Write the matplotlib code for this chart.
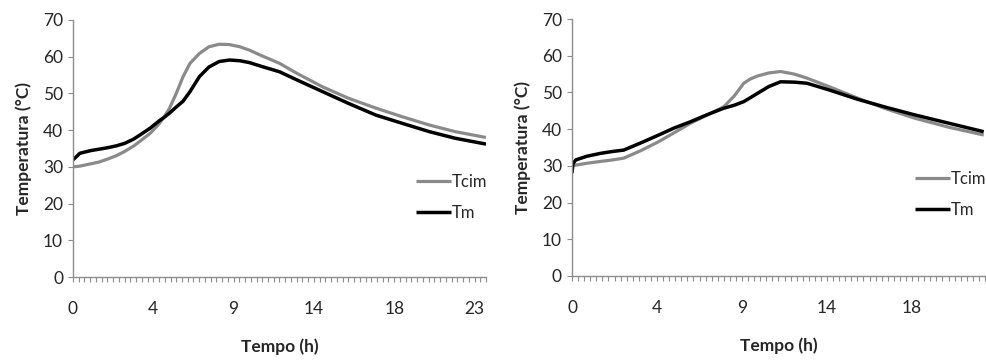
import matplotlib
matplotlib.use("Agg")
import matplotlib.pyplot as plt
import numpy as np
from matplotlib.ticker import MultipleLocator, FixedLocator, FixedFormatter

plt.rcParams['font.family'] = ['Lato', 'DejaVu Sans']

# ---------------- data ----------------
# left chart
left_t = [0, 0.4, 1, 1.5, 2, 2.5, 3, 3.5, 3.9, 4.5, 5, 5.3, 5.6, 6, 6.4, 6.8, 7.35, 7.9,
          8.5, 9.1, 9.7, 10.25, 11, 12, 13, 14.5, 16, 17.6, 19.1, 20.7, 22.2, 24]
left_tcim = [30.0, 30.2, 30.8, 31.3, 32.1, 33.0, 34.2, 35.6, 37.0, 39.2, 41.7, 43.6,
             45.9, 50.0, 54.6, 58.2, 60.9, 62.7, 63.4, 63.3, 62.7, 61.8, 60.2, 58.2,
             55.5, 51.8, 48.7, 46.0, 43.7, 41.4, 39.6, 38.0]
left_tm = [31.9, 33.7, 34.4, 34.8, 35.2, 35.7, 36.4, 37.5, 38.7, 40.6, 42.5, 43.5,
           44.6, 46.3, 47.9, 50.5, 54.6, 57.2, 58.7, 59.1, 58.9, 58.4, 57.3, 55.9,
           53.7, 50.5, 47.3, 44.1, 41.9, 39.6, 37.8, 36.2]

# right chart
right_t = [0, 0.05, 0.2, 0.8, 1.56, 2.2, 2.84, 3.8, 4.76, 5.6, 6.5, 7.4, 8.33, 8.9,
           9.43, 9.8, 10.2, 10.8, 11.45, 12.2, 12.9, 14.1, 15.7, 17.2, 18.8, 20.7, 22.6]
right_tcim = [29.8, 30.0, 30.2, 30.7, 31.2, 31.6, 32.1, 34.2, 36.6, 39.0, 41.6, 43.8,
              46.1, 49.0, 52.5, 53.7, 54.5, 55.3, 55.7, 55.0, 53.9, 51.6, 48.4, 45.6,
              43.0, 40.5, 38.4]
right_tm = [28.0, 30.5, 31.6, 32.6, 33.4, 33.9, 34.3, 36.3, 38.4, 40.3, 42.0, 43.9,
            45.7, 46.5, 47.5, 48.6, 49.8, 51.6, 52.9, 52.8, 52.5, 50.7, 48.1, 46.0,
            43.9, 41.6, 39.3]

left_labels = ["0", "4", "9", "14", "18", "23"]
right_labels = ["0", "4", "9", "14", "18"]
label_step = 14 / 3.0     # 14 category ticks of 20 min between labels
minor_step = 1 / 3.0

series_names = ["Tcim", "Tm"]
GRAY = "#8a8a8a"
AXC = "#8c8c8c"
TXT = "#262626"

W, H = 987, 360
fig = plt.figure(figsize=(W / 100, H / 100), dpi=100)

def setup(ax, t, tcim, tm, labels, xmax, leg_y):
    ax.plot(t, tcim, color=GRAY, lw=2.3, label=series_names[0],
            solid_capstyle='butt', solid_joinstyle='round')
    ax.plot(t, tm, color="black", lw=2.5, label=series_names[1],
            solid_capstyle='butt', solid_joinstyle='round')
    ax.set_xlim(0, xmax)
    ax.set_ylim(0, 70)
    ax.set_yticks(np.arange(0, 71, 10))
    for s in ["top", "right"]:
        ax.spines[s].set_visible(False)
    for s in ["left", "bottom"]:
        ax.spines[s].set_color(AXC)
        ax.spines[s].set_linewidth(1.0)
    ax.xaxis.set_major_locator(FixedLocator([k * label_step for k in range(len(labels))]))
    ax.xaxis.set_major_formatter(FixedFormatter(labels))
    ax.xaxis.set_minor_locator(MultipleLocator(minor_step))
    ax.tick_params(axis='x', which='major', length=3.6, width=0.8, color=AXC,
                   pad=13.5, labelsize=12.5, labelcolor=TXT)
    ax.tick_params(axis='x', which='minor', length=3.6, width=0.8, color=AXC)
    ax.tick_params(axis='y', which='major', length=3.6, width=0.8, color=AXC,
                   pad=3.6, labelsize=12.5, labelcolor=TXT)
    ax.set_xlabel("Tempo (h)", fontsize=12.5, fontweight='bold', color=TXT)
    ax.set_ylabel("Temperatura (°C)", fontsize=12.5, fontweight='bold', color=TXT)
    ax.xaxis.set_label_coords(0.5, -0.24)
    ax.yaxis.set_label_coords(-0.099, 0.5)
    ax.legend(loc='center left', bbox_to_anchor=(0.8305, leg_y), frameon=False,
              fontsize=12, handlelength=2.1, handletextpad=0.05, labelspacing=0.9,
              borderpad=0, borderaxespad=0, labelcolor=TXT)

axL = fig.add_axes([73 / W, 1 - 277 / H, 413 / W, 257 / H])
setup(axL, left_t, left_tcim, left_tm, left_labels, 24.0, 0.309)

axR = fig.add_axes([572 / W, 1 - 276 / H, 413 / W, 257 / H])
setup(axR, right_t, right_tcim, right_tm, right_labels, 22.67, 0.317)

fig.savefig("out.png", dpi=100)
